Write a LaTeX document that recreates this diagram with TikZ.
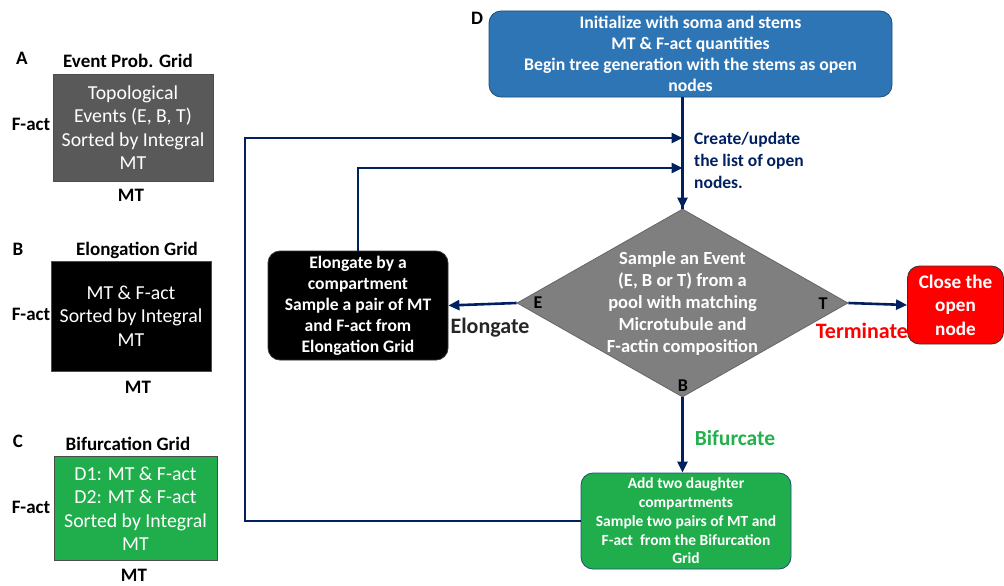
\documentclass[tikz,border=0pt]{standalone}
\usepackage{fontspec}
\setmainfont{Carlito}
\usetikzlibrary{arrows.meta,shapes.geometric}
\definecolor{navy}{HTML}{002060}
\definecolor{dgray}{HTML}{595959}
\definecolor{mgray}{HTML}{7F7F7F}
\definecolor{gbox}{HTML}{1FAE4B}
\definecolor{gtext}{HTML}{22B14C}
\definecolor{bbox}{HTML}{2E75B6}
\definecolor{bborder}{HTML}{1F4E79}
\tikzset{
  gridbox/.style={draw=black!70, line width=0.8pt, inner sep=0pt, align=center, text=white,
    font=\fontsize{19.8}{23.5}\selectfont},
  gtitle/.style={font=\bfseries\fontsize{19}{21}\selectfont, inner sep=0pt},
  plabel/.style={font=\bfseries\fontsize{19}{20}\selectfont, inner sep=0pt},
  flowbox/.style={draw=black!80, line width=0.8pt, rounded corners=12pt, inner sep=0pt,
    align=center, text=white},
  arr/.style={draw=navy, line width=2.6pt, -{Triangle[length=11pt,width=10pt]}},
  ln/.style={draw=navy, line width=2.6pt},
  side/.style={font=\bfseries\fontsize{18}{20}\selectfont, inner sep=0pt},
}
\begin{document}
\begin{tikzpicture}[x=1pt,y=-1pt]
\useasboundingbox (0,0) rectangle (1004,586);
% Panel A
\node[plabel] (la) at (22,58) {A};
\node[gtitle] (ta) at (128,61) {Event Prob. Grid};
\node[gridbox, fill=dgray, minimum width=160pt, minimum height=107pt] (ga) at (133,127.5)
  {Topological\\Events (E, B, T)\\Sorted by Integral\\MT};
\node[gtitle] (fa) at (31,124) {F-act};
\node[gtitle] (ma) at (131,195) {MT};
% Panel B
\node[plabel] (lb) at (18,249) {B};
\node[gtitle] (tb) at (137,250) {Elongation Grid};
\node[gridbox, fill=black, minimum width=160pt, minimum height=110pt] (gb) at (131,316)
  {MT \& F-act\\Sorted by Integral\\MT};
\node[gtitle] (fb) at (31,314) {F-act};
\node[gtitle] (mb) at (138,387) {MT};
% Panel C
\node[plabel] (lc) at (18,441) {C};
\node[gtitle] (tc) at (128,444) {Bifurcation Grid};
\node[gridbox, fill=gbox, minimum width=163pt, minimum height=104pt] (gc) at (135.5,508.5)
  {D1: MT \& F-act\\D2: MT \& F-act\\Sorted by Integral\\MT};
\node[gtitle] (fc) at (31,507) {F-act};
\node[gtitle] (mc) at (134,575) {MT};
% Panel D
\node[plabel] (ld) at (477,18) {D};
\node[flowbox, draw=bborder, fill=bbox, minimum width=403pt, minimum height=86pt,
  font=\bfseries\fontsize{17.7}{21}\selectfont] (blue) at (690.5,54)
  {Initialize with soma and stems\\MT \& F-act quantities\\Begin tree generation with the stems as open\\nodes};
\node[diamond, draw=black!60, line width=0.8pt, fill=mgray, minimum width=331pt, minimum height=188pt,
  inner sep=0pt] (dia) at (682.5,303) {};
\node[align=center, text=white, inner sep=0pt, font=\bfseries\fontsize{18.5}{22}\selectfont] (diat)
  at (dia.center) {Sample an Event\\(E, B or T) from a\\pool with matching\\Microtubule and\\F-actin composition};
\node[side] (le) at (538,303) {E};
\node[side] (lt) at (823,304) {T};
\node[side] (lbb) at (683,386) {B};
\node[flowbox, fill=black, minimum width=180pt, minimum height=109pt,
  font=\bfseries\fontsize{17.6}{21}\selectfont] (elong) at (358,305.5)
  {Elongate by a\\compartment\\Sample a pair of MT\\and F-act from\\Elongation Grid};
\node[flowbox, fill=red, minimum width=96pt, minimum height=78pt,
  font=\bfseries\fontsize{19.2}{23.5}\selectfont] (close) at (955.5,305)
  {Close the\\open\\node};
\node[flowbox, draw=bborder, fill=gbox, minimum width=210pt, minimum height=96pt,
  font=\bfseries\fontsize{15.5}{18.8}\selectfont] (green) at (686,521)
  {Add two daughter\\compartments\\Sample two pairs of MT and\\F-act\ \ from the Bifurcation\\Grid};
\node[align=left, text=navy, inner sep=0pt, anchor=west, font=\bfseries\fontsize{17.5}{22}\selectfont]
  (upd) at (694,160) {Create/update\\the list of open\\nodes.};
\node[font=\bfseries\fontsize{22}{24}\selectfont, text=black!85, inner sep=0pt] (telong) at (490,328) {Elongate};
\node[font=\bfseries\fontsize{22}{24}\selectfont, text=red, inner sep=0pt] (tterm) at (862,331) {Terminate};
\node[font=\bfseries\fontsize{21.5}{24}\selectfont, text=gtext, inner sep=0pt] (tbif) at (735,438) {Bifurcate};
% connectors
\coordinate (in1) at (682.5,138);
\coordinate (in2) at (682.5,168);
\coordinate (loopL) at (245,138);
\draw[ln] (blue.south -| dia.north) -- (dia.north);
\draw[arr] (in2) -- (dia.north);
\draw[arr] (green.west) -| (loopL) -- (in1);
\draw[arr] (elong.north) |- (in2);
\draw[arr] (dia.west) -- (elong.east);
\draw[arr] (dia.east) -- (close.west);
\draw[arr] (dia.south) -- (dia.south |- green.north);
\end{tikzpicture}
\end{document}
